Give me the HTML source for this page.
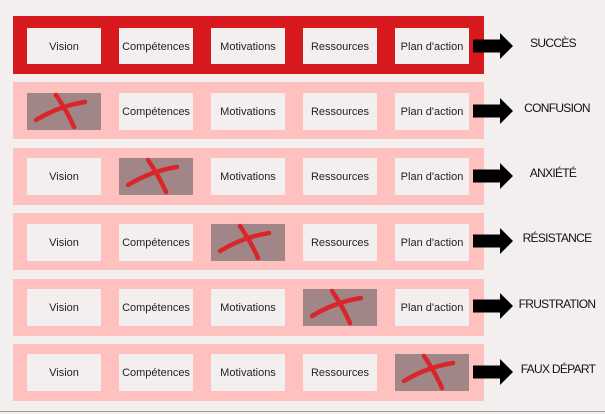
<!DOCTYPE html>
<html><head><meta charset="utf-8"><style>
html,body{margin:0;padding:0;background:#f4efef;}
svg{display:block;}
text{font-family:"Liberation Sans",sans-serif;}
</style></head><body>
<svg width="605" height="414" viewBox="0 0 605 414" xmlns="http://www.w3.org/2000/svg">
<defs>
<g id="x">
<rect x="0" y="0" width="74" height="37" fill="#a08686"/>
<path d="M9 27 Q32 13 58 9" stroke="#d8262a" stroke-width="4.5" fill="none" stroke-linecap="round"/>
<path d="M29 2 Q40 18 47 34" stroke="#d8262a" stroke-width="4.5" fill="none" stroke-linecap="round"/>
</g>
<g id="arr"><rect x="0" y="-6.5" width="28" height="13" fill="#000"/><polygon points="27,-13 40,0 27,13" fill="#000"/></g>
</defs>
<rect x="0" y="0" width="605" height="414" fill="#f4efef"/>
<line x1="0" y1="411.5" x2="605" y2="411.5" stroke="#999" stroke-width="1"/>
<rect x="13" y="16" width="471" height="58" fill="#d8191d"/>
<rect x="13" y="82" width="471" height="57" fill="#ffc0c0"/>
<rect x="13" y="148" width="471" height="57" fill="#ffc0c0"/>
<rect x="13" y="213" width="471" height="57" fill="#ffc0c0"/>
<rect x="13" y="279" width="471" height="57" fill="#ffc0c0"/>
<rect x="13" y="344" width="471" height="57" fill="#ffc0c0"/>
<g font-size="11" fill="#222" text-anchor="middle">
<g fill="#f4efef"><rect x="27" y="28" width="74" height="36"/><rect x="119" y="28" width="74" height="36"/><rect x="211" y="28" width="74" height="36"/><rect x="303" y="28" width="74" height="36"/><rect x="395" y="28" width="74" height="36"/></g>
<text x="64" y="50">Vision</text><text x="156" y="50">Compétences</text><text x="248" y="50">Motivations</text><text x="340" y="50">Ressources</text><text x="432" y="50">Plan d'action</text>
<use href="#x" x="27" y="93"/>
<g fill="#f4efef"><rect x="119" y="93" width="74" height="37"/><rect x="211" y="93" width="74" height="37"/><rect x="303" y="93" width="74" height="37"/><rect x="395" y="93" width="74" height="37"/></g>
<text x="156" y="115">Compétences</text><text x="248" y="115">Motivations</text><text x="340" y="115">Ressources</text><text x="432" y="115">Plan d'action</text>
<use href="#x" x="119" y="158"/>
<g fill="#f4efef"><rect x="27" y="158" width="74" height="37"/><rect x="211" y="158" width="74" height="37"/><rect x="303" y="158" width="74" height="37"/><rect x="395" y="158" width="74" height="37"/></g>
<text x="64" y="180">Vision</text><text x="248" y="180">Motivations</text><text x="340" y="180">Ressources</text><text x="432" y="180">Plan d'action</text>
<use href="#x" x="211" y="224"/>
<g fill="#f4efef"><rect x="27" y="224" width="74" height="37"/><rect x="119" y="224" width="74" height="37"/><rect x="303" y="224" width="74" height="37"/><rect x="395" y="224" width="74" height="37"/></g>
<text x="64" y="246">Vision</text><text x="156" y="246">Compétences</text><text x="340" y="246">Ressources</text><text x="432" y="246">Plan d'action</text>
<use href="#x" x="303" y="289"/>
<g fill="#f4efef"><rect x="27" y="289" width="74" height="37"/><rect x="119" y="289" width="74" height="37"/><rect x="211" y="289" width="74" height="37"/><rect x="395" y="289" width="74" height="37"/></g>
<text x="64" y="311">Vision</text><text x="156" y="311">Compétences</text><text x="248" y="311">Motivations</text><text x="432" y="311">Plan d'action</text>
<use href="#x" x="395" y="354"/>
<g fill="#f4efef"><rect x="27" y="354" width="74" height="37"/><rect x="119" y="354" width="74" height="37"/><rect x="211" y="354" width="74" height="37"/><rect x="303" y="354" width="74" height="37"/></g>
<text x="64" y="376">Vision</text><text x="156" y="376">Compétences</text><text x="248" y="376">Motivations</text><text x="340" y="376">Ressources</text>
</g>
<use href="#arr" x="473" y="46"/>
<use href="#arr" x="473" y="111"/>
<use href="#arr" x="473" y="176"/>
<use href="#arr" x="473" y="241"/>
<use href="#arr" x="473" y="306"/>
<use href="#arr" x="473" y="372"/>
<g font-size="12" fill="#111" text-anchor="middle" letter-spacing="-0.7">
<text x="553" y="47">SUCCÈS</text>
<text x="557" y="112">CONFUSION</text>
<text x="553" y="177">ANXIÉTÉ</text>
<text x="557" y="242">RÉSISTANCE</text>
<text x="557" y="308">FRUSTRATION</text>
<text x="558" y="373">FAUX DÉPART</text>
</g>
</svg>
</body></html>
